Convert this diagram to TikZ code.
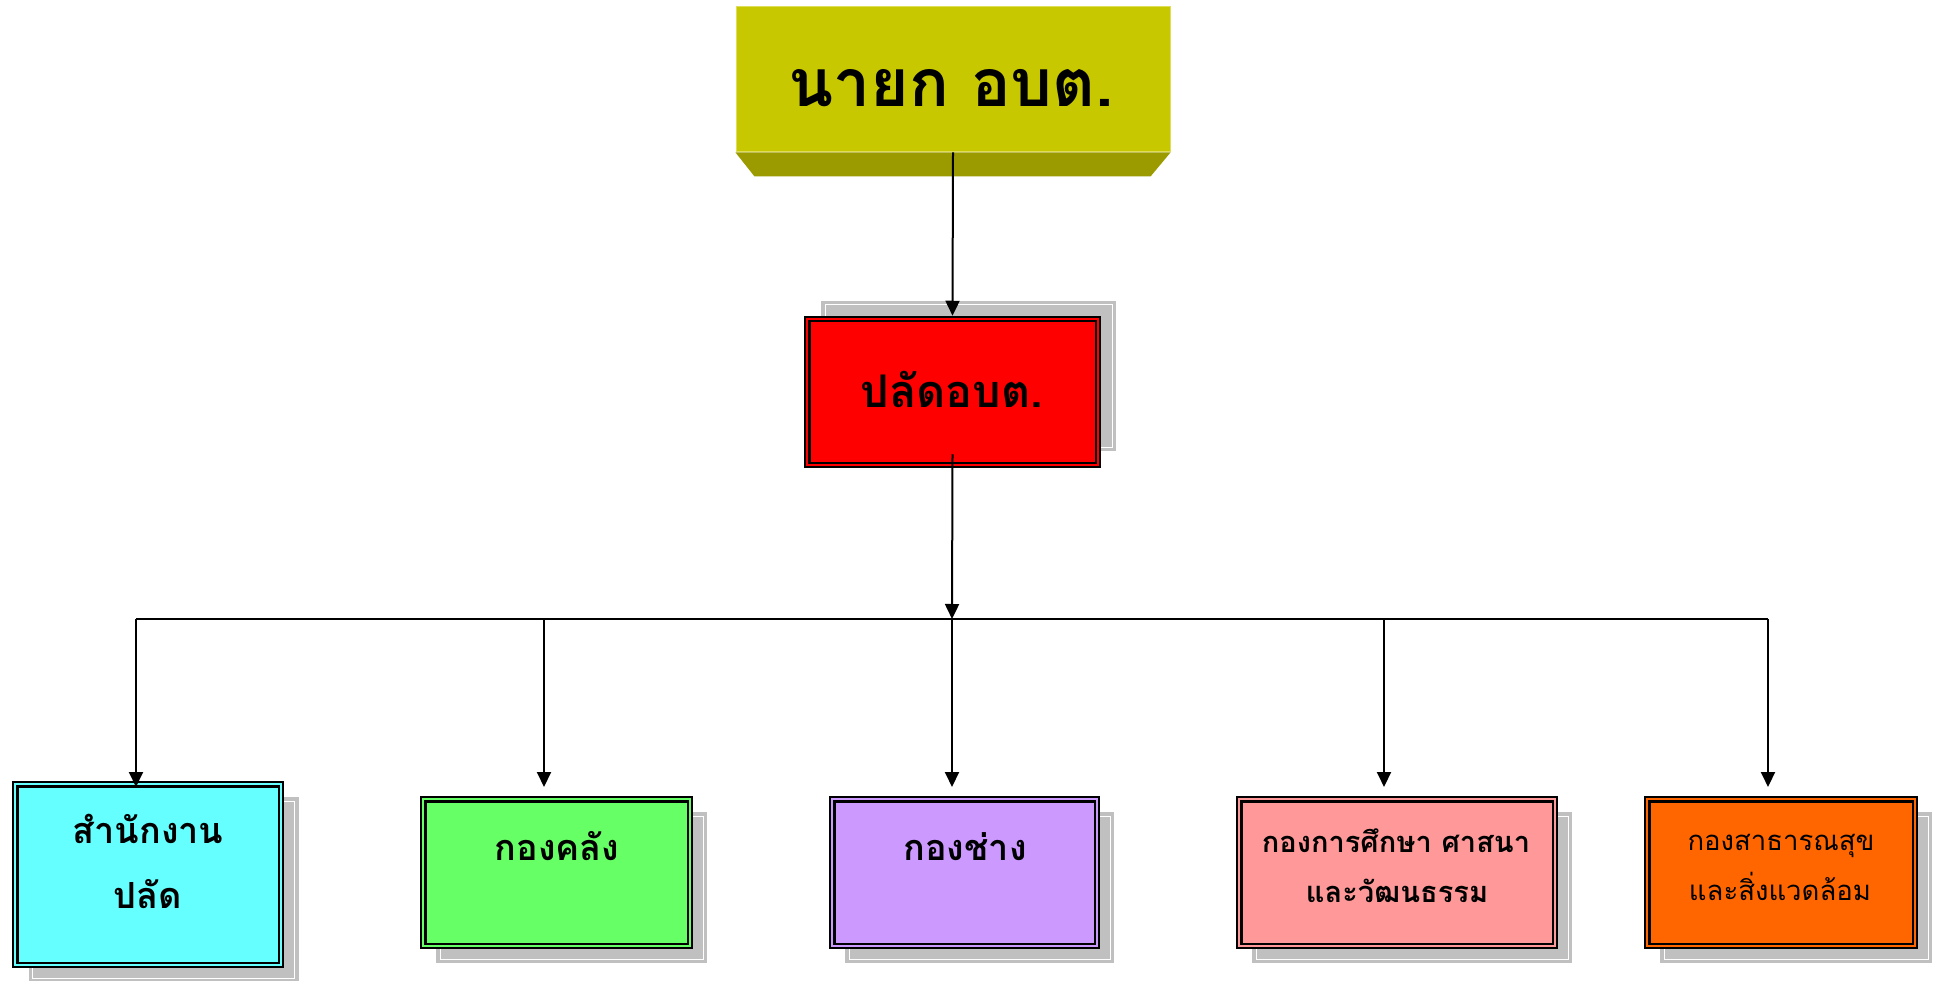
\documentclass[tikz,border=0pt]{standalone}
\usepackage{fontspec}
\newfontfamily\thai[Script=Thai]{Loma}
\usetikzlibrary{arrows.meta,calc}
\definecolor{ylw}{RGB}{200,200,0}
\definecolor{ylwdark}{RGB}{155,155,0}
\definecolor{ylwedge}{RGB}{222,222,90}
\definecolor{shd}{RGB}{192,192,192}
\definecolor{cyanb}{RGB}{102,255,255}
\definecolor{greenb}{RGB}{102,255,102}
\definecolor{purpleb}{RGB}{204,153,255}
\definecolor{pinkb}{RGB}{255,153,153}
\definecolor{orangeb}{RGB}{255,102,0}
\definecolor{redb}{RGB}{255,0,0}
\tikzset{
  orgbox/.style={draw=black, line width=2.5pt, inner sep=0pt, rectangle},
  conn/.style={line width=2pt, draw=black},
  arr/.style={conn, -{Triangle[length=15pt,width=14pt]}},
  lbl/.style={inner sep=0pt, anchor=base, font=\thai\bfseries},
}
\newcommand\drawinner[1]{%
  \draw[line width=2.5pt] ($(#1.north west)+(5.5,5.5)$) rectangle ($(#1.south east)+(-5.5,-5.5)$);}
\newcommand\drawshadow[5]{% center x, center y, width, height
  \fill[shd] (#1-#3/2,#2-#4/2) rectangle (#1+#3/2,#2+#4/2);
  \draw[white, line width=1pt] (#1-#3/2+4,#2-#4/2+4) rectangle (#1+#3/2-4,#2+#4/2-4);}
\begin{document}
\begin{tikzpicture}[x=1pt,y=-1pt]
\useasboundingbox (0,0) rectangle (1933,981);
\fill[white] (0,0) rectangle (1933,981);
% ---- shadows ----
\drawshadow{968.5}{376}{295}{150}{}
\drawshadow{163.5}{889.5}{270}{185}{}
\drawshadow{571.5}{887.5}{271}{151}{}
\drawshadow{979.5}{887.5}{269}{151}{}
\drawshadow{1412}{887.5}{320}{151}{}
\drawshadow{1796}{887.5}{272}{151}{}
% ---- top box ----
\node[fill=ylw, draw=ylwedge, line width=1pt, minimum width=434pt, minimum height=145pt, inner sep=0pt] (top) at (953,79.5) {};
\fill[ylwdark] (top.south west) -- (top.south east) -- ($(top.south east)+(-20,24)$) -- ($(top.south west)+(19,24)$) -- cycle;
\node[lbl, font=\thai\bfseries\fontsize{66}{80}\selectfont] (toptext) at (951,107) {นายก อบต.};
% ---- red box ----
\node[orgbox, fill=redb, minimum width=295pt, minimum height=150pt] (red) at (952.5,392) {};
\drawinner{red}
\node[lbl, font=\thai\bfseries\fontsize{45}{54}\selectfont] (redtext) at (952,408) {ปลัดอบต.};
% ---- bottom boxes ----
\node[orgbox, fill=cyanb, minimum width=270pt, minimum height=185pt] (b1) at (148,874.5) {};
\drawinner{b1}
\node[lbl, font=\thai\bfseries\fontsize{36}{44}\selectfont] (b1t1) at (148,843) {สำนักงาน};
\node[lbl, font=\thai\bfseries\fontsize{36}{44}\selectfont] (b1t2) at (148,908) {ปลัด};

\node[orgbox, fill=greenb, minimum width=271pt, minimum height=151pt] (b2) at (556.5,872.5) {};
\drawinner{b2}
\node[lbl, font=\thai\bfseries\fontsize{36}{44}\selectfont] (b2t) at (557,860) {กองคลัง};

\node[orgbox, fill=purpleb, minimum width=269pt, minimum height=151pt] (b3) at (964.5,872.5) {};
\drawinner{b3}
\node[lbl, font=\thai\bfseries\fontsize{36}{44}\selectfont] (b3t) at (965,860) {กองช่าง};

\node[orgbox, fill=pinkb, minimum width=320pt, minimum height=151pt] (b4) at (1397,872.5) {};
\drawinner{b4}
\node[lbl, font=\thai\bfseries\fontsize{29}{36}\selectfont] (b4t1) at (1396,852) {กองการศึกษา ศาสนา};
\node[lbl, font=\thai\bfseries\fontsize{29}{36}\selectfont] (b4t2) at (1397,902) {และวัฒนธรรม};

\node[orgbox, fill=orangeb, minimum width=272pt, minimum height=151pt] (b5) at (1781,872.5) {};
\drawinner{b5}
\node[lbl, font=\thai\fontsize{27.5}{34}\selectfont] (b5t1) at (1781,850) {กองสาธารณสุข};
\node[lbl, font=\thai\fontsize{27.5}{34}\selectfont] (b5t2) at (1780,900) {และสิ่งแวดล้อม};

% ---- connectors ----
\coordinate (j) at (952,619);
\coordinate (jl) at (136,619);
\coordinate (jr) at (1768,619);
\coordinate (d1) at (136,787);
\coordinate (d2) at (544,787);
\coordinate (d3) at (952,787);
\coordinate (d4) at (1384,787);
\coordinate (d5) at (1768,787);
\coordinate (h2) at (544,619);
\coordinate (h4) at (1384,619);
\draw[arr] (top.south) -- (red.north);
\draw[arr] ($(red.south)+(0,-14)$) -- (j);
\draw[conn] (jl) -- (jr);
\draw[arr] (jl) -- (d1);
\draw[arr] (h2) -- (d2);
\draw[arr] (j) -- (d3);
\draw[arr] (h4) -- (d4);
\draw[arr] (jr) -- (d5);
\end{tikzpicture}
\end{document}
